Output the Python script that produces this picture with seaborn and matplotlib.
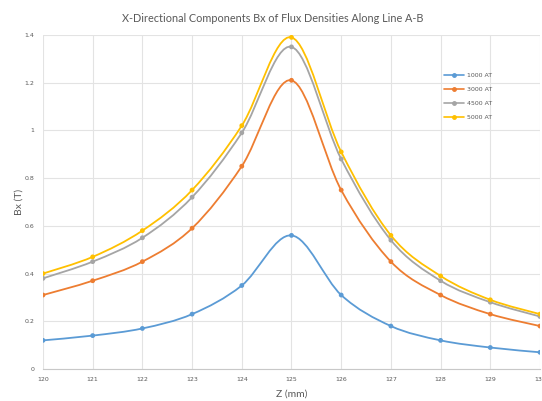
import numpy as np
import pandas as pd
import matplotlib
matplotlib.use("Agg")
import matplotlib.pyplot as plt
import seaborn as sns
from matplotlib.path import Path
from matplotlib.patches import PathPatch
from matplotlib.lines import Line2D

# dane
z_mm = [120, 121, 122, 123, 124, 125, 126, 127, 128, 129, 130]
bx_1000 = [0.12, 0.14, 0.17, 0.23, 0.35, 0.56, 0.31, 0.18, 0.12, 0.09, 0.07]
bx_3000 = [0.31, 0.37, 0.45, 0.59, 0.85, 1.21, 0.75, 0.45, 0.31, 0.23, 0.18]
bx_4500 = [0.38, 0.45, 0.55, 0.72, 0.99, 1.35, 0.88, 0.54, 0.37, 0.28, 0.22]
bx_5000 = [0.40, 0.47, 0.58, 0.75, 1.02, 1.39, 0.91, 0.56, 0.39, 0.29, 0.23]
series_names = ["1000 AT", "3000 AT", "4500 AT", "5000 AT"]
colors = ["#5B9BD5", "#ED7D31", "#A5A5A5", "#FFC000"]

df = pd.DataFrame({
    "Z": z_mm * 4,
    "Bx": bx_1000 + bx_3000 + bx_4500 + bx_5000,
    "series": [n for n in series_names for _ in z_mm],
})


def smooth_path(x, y):
    """Krzywa Beziera przez punkty (wygladzanie w stylu Excela)."""
    x = np.asarray(x, float)
    y = np.asarray(y, float)
    verts = [(x[0], y[0])]
    codes = [Path.MOVETO]
    n = len(x)
    for i in range(n - 1):
        x0, y0 = (x[i - 1], y[i - 1]) if i > 0 else (x[i], y[i])
        x3, y3 = (x[i + 2], y[i + 2]) if i + 2 < n else (x[i + 1], y[i + 1])
        c1 = (x[i] + (x[i + 1] - x0) / 6, y[i] + (y[i + 1] - y0) / 6)
        c2 = (x[i + 1] - (x3 - x[i]) / 6, y[i + 1] - (y3 - y[i]) / 6)
        verts += [c1, c2, (x[i + 1], y[i + 1])]
        codes += [Path.CURVE4] * 3
    return Path(verts, codes)


sns.set_style("white")
plt.rcParams["font.family"] = ["Lato", "DejaVu Sans"]
fig = plt.figure(figsize=(5.42, 4.01), dpi=100)
ax = fig.add_axes([0.0793, 0.0798, 0.917, 0.833])

for name, col in zip(series_names, colors):
    sub = df[df["series"] == name]
    ax.add_patch(PathPatch(smooth_path(sub["Z"], sub["Bx"]), facecolor="none",
                           edgecolor=col, lw=1.3, zorder=3))

sns.scatterplot(data=df, x="Z", y="Bx", hue="series", palette=colors,
                s=12, edgecolor="none", legend=False, ax=ax, zorder=4)

ax.set_xlim(120, 130)
ax.set_ylim(0, 1.4)
ax.set_xticks(z_mm)
ax.set_yticks(np.arange(0, 1.41, 0.2))
ax.set_yticklabels(["0", "0.2", "0.4", "0.6", "0.8", "1", "1.2", "1.4"])
ax.tick_params(labelsize=4.5, colors="#595959", length=0, pad=6)
for lbl in ax.get_xticklabels() + ax.get_yticklabels():
    lbl.set_family("DejaVu Sans")
ax.grid(True, color="#E3E3E3", lw=0.8)
for s in ["top", "right", "left"]:
    ax.spines[s].set_visible(False)
ax.spines["bottom"].set_color("#C8C8C8")

ax.set_xlabel("Z (mm)", fontsize=7.5, color="#595959", labelpad=5)
ax.set_ylabel("Bx (T)", fontsize=7.5, color="#595959", labelpad=1)
fig.text(0.503, 0.955, "X-Directional Components Bx of Flux Densities Along Line A-B",
         ha="center", va="center", fontsize=7.8, color="#595959")

handles = [Line2D([], [], color=c, lw=1.2, marker="o", markersize=2.5) for c in colors]
ax.legend(handles, series_names, loc="upper left", bbox_to_anchor=(0.795, 0.905),
          frameon=False, prop={"family": "DejaVu Sans", "size": 4.5},
          labelcolor="#595959", handlelength=3.3,
          labelspacing=1.4, handletextpad=0.4)

fig.savefig("out.png", dpi=100)
